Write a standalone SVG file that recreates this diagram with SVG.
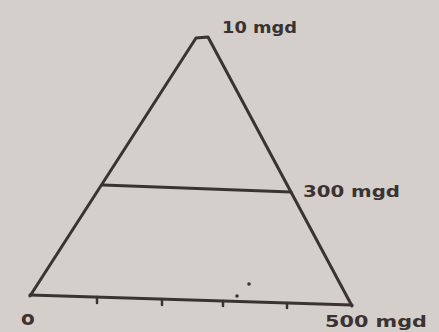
<svg xmlns="http://www.w3.org/2000/svg" width="439" height="332" viewBox="0 0 439 332">
<style>
.ln{fill:none;stroke:#3b3331;stroke-width:3;stroke-linecap:round;stroke-linejoin:round}
.tk{fill:none;stroke:#3b3331;stroke-width:2.5;stroke-linecap:round}
.lb{font-family:"DejaVu Sans",sans-serif;font-weight:bold;font-size:16px;fill:#3b3331}
</style>
<rect width="439" height="332" fill="#d4cfcb"/>
<g id="triangle">
<path class="ln" d="M30,296 L196,38 L208,37 L352,306"/>
<path class="ln" d="M30,295 L352,305"/>
<path class="ln" d="M103,185 L291,192"/>
</g>
<g id="ticks">
<path class="tk" d="M97,297 V303 M162,299 V305 M223,301 V306 M287,303 V308"/>
</g>
<g id="dots" fill="#3b3331">
<circle cx="249" cy="284" r="1.8"/>
<circle cx="237" cy="296" r="1.8"/>
</g>
<g id="labels">
<text class="lb" x="222" y="33" textLength="75" lengthAdjust="spacingAndGlyphs">10 mgd</text>
<text class="lb" x="303" y="197" textLength="97" lengthAdjust="spacingAndGlyphs">300 mgd</text>
<text class="lb" x="21" y="325" style="font-size:20px">o</text>
<text class="lb" x="325" y="327" style="font-size:15px" textLength="102" lengthAdjust="spacingAndGlyphs">500 mgd</text>
</g>
</svg>
